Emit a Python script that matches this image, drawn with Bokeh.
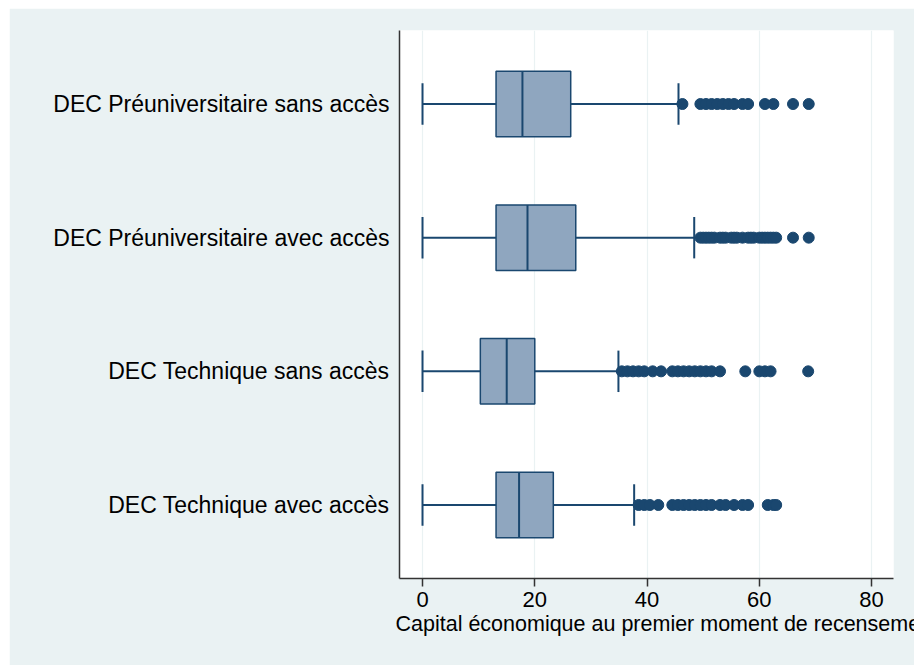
from bokeh.plotting import figure
from bokeh.models import FactorRange, Range1d, FixedTicker, ColumnDataSource, Title, Spacer
from bokeh.layouts import column, row
from bokeh.transform import dodge
from bokeh.embed import file_html
from bokeh.resources import INLINE

# Categories listed bottom to top
categories = ["DEC Technique avec accès", "DEC Technique sans accès",
              "DEC Préuniversitaire avec accès", "DEC Préuniversitaire sans accès"]
lower_whisker = [0, 0, 0, 0]
q1 = [13.1, 10.3, 13.1, 13.1]
median = [17.2, 15.0, 18.7, 17.8]
q3 = [23.3, 20.0, 27.3, 26.4]
upper_whisker = [37.7, 34.9, 48.4, 45.6]

outliers_tech_avec = [38.5, 39.5, 40.5, 42, 44.5, 45.5, 46.5, 47.5, 48.5, 49.5, 50.5,
                      51.5, 53, 54, 55.5, 57, 58, 61.5, 62.5, 63]
outliers_tech_sans = [35.5, 36.5, 37.5, 38.5, 39.5, 41, 42.5, 44.5, 45.5, 46.5, 47.5,
                      48.5, 49.5, 50.5, 51.5, 53, 57.5, 60, 61, 62, 68.7]
outliers_preu_avec = [49.5, 50, 50.5, 51, 51.5, 52, 53, 53.5, 54, 55, 55.5, 56, 57, 58,
                      58.5, 59, 60, 60.5, 61, 61.5, 62, 62.5, 63, 66, 68.8]
outliers_preu_sans = [46.3, 49.5, 50.5, 51.5, 52.5, 53.5, 54.5, 55.5, 57, 58, 61, 62.5,
                      66, 68.8]
outliers = [outliers_tech_avec, outliers_tech_sans, outliers_preu_avec, outliers_preu_sans]

x_ticks = [0, 20, 40, 60, 80]
x_title = "Capital économique au premier moment de recensement"

BG = "#eaf2f3"
NAVY = "#1a476f"
BOXFILL = "#8fa6bf"
FONT = "Liberation Sans"

BOX_H = 0.49
CAP_H = 0.31

src = ColumnDataSource(dict(cat=categories, lw=lower_whisker, q1=q1, med=median,
                            q3=q3, uw=upper_whisker))

p = figure(width=905, height=657, output_backend="svg", toolbar_location=None,
           y_range=FactorRange(factors=categories, range_padding=0.05,
                               range_padding_units="absolute"),
           x_range=Range1d(-4.1, 83.9),
           min_border_left=390, min_border_right=21, min_border_top=22,
           min_border_bottom=87)
p.background_fill_color = "white"
p.border_fill_color = BG
p.outline_line_color = None

yr = p.y_range
# whiskers
p.segment(x0="lw", y0="cat", x1="q1", y1="cat", source=src, line_color=NAVY, line_width=2)
p.segment(x0="q3", y0="cat", x1="uw", y1="cat", source=src, line_color=NAVY, line_width=2)
# caps
p.segment(x0="lw", x1="lw", y0=dodge("cat", -CAP_H / 2, range=yr),
          y1=dodge("cat", CAP_H / 2, range=yr), source=src, line_color=NAVY, line_width=2)
p.segment(x0="uw", x1="uw", y0=dodge("cat", -CAP_H / 2, range=yr),
          y1=dodge("cat", CAP_H / 2, range=yr), source=src, line_color=NAVY, line_width=2)
# boxes
p.hbar(y="cat", left="q1", right="q3", height=BOX_H, source=src, fill_color=BOXFILL,
       line_color=NAVY, line_width=1.5)
# medians
p.segment(x0="med", x1="med", y0=dodge("cat", -BOX_H / 2, range=yr),
          y1=dodge("cat", BOX_H / 2, range=yr), source=src, line_color=NAVY, line_width=2)
# outliers
ox, oy = [], []
for cat, vals in zip(categories, outliers):
    ox.extend(vals)
    oy.extend([cat] * len(vals))
p.scatter(x=ox, y=oy, marker="circle", size=11, fill_color=NAVY, line_color=NAVY)

# axes
p.xaxis.ticker = FixedTicker(ticks=x_ticks)
p.xaxis.major_label_text_font = FONT
p.xaxis.major_label_text_font_size = "22px"
p.xaxis.major_label_text_color = "black"
p.xaxis.major_label_standoff = 5
p.xaxis.major_tick_out = 8
p.xaxis.major_tick_in = 0
p.xaxis.minor_tick_line_color = None
p.xaxis.axis_line_color = "#333333"
p.xaxis.axis_line_width = 1.5
p.xaxis.major_tick_line_color = "#333333"
p.xaxis.major_tick_line_width = 1.5

xt = Title(text=x_title, align="left", offset=-4, text_font=FONT,
           text_font_style="normal", text_font_size="21.5px", text_color="black",
           standoff=0)
p.add_layout(xt, "below")

p.yaxis.major_label_text_font = FONT
p.yaxis.major_label_text_font_size = "23px"
p.yaxis.major_label_text_color = "black"
p.yaxis.major_tick_line_color = None
p.yaxis.major_tick_out = 0
p.yaxis.major_tick_in = 0
p.yaxis.minor_tick_line_color = None
p.yaxis.major_label_standoff = 10
p.yaxis.axis_line_color = "#333333"
p.yaxis.axis_line_width = 1.5

p.xgrid.grid_line_color = BG
p.xgrid.grid_line_width = 1.2
p.ygrid.grid_line_color = None

layout = column(Spacer(width=914, height=8),
                row(Spacer(width=9, height=657), p))

open("out.html", "w").write(file_html(layout, INLINE))
